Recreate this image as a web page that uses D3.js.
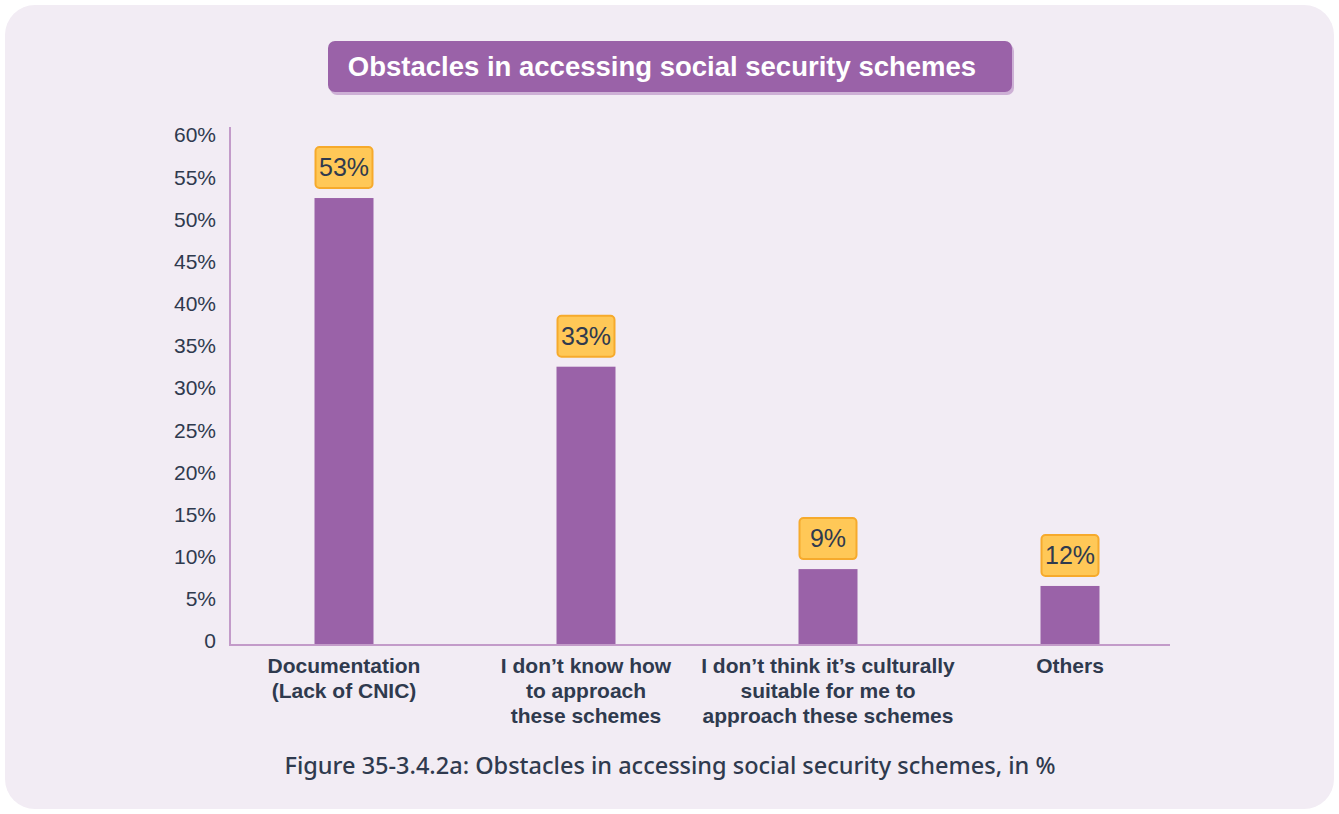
<!DOCTYPE html>
<style>
    body { margin: 0; background: #fff; }
</style>
<body>
<svg width="1339" height="814" viewBox="0 0 1339 814" id="chart"></svg>
<script src="https://cdn.jsdelivr.net/npm/d3@7"></script>
<script>

    // data
    var categories = [
        ["Documentation", "(Lack of CNIC)"],
        ["I don\u2019t know how", "to approach", "these schemes"],
        ["I don\u2019t think it\u2019s culturally", "suitable for me to", "approach these schemes"],
        ["Others"]
    ];
    var values = [53, 33, 9, 7];                 // bar heights as drawn
    var valueLabels = ["53%", "33%", "9%", "12%"]; // labels as printed
    var yTicks = [0, 5, 10, 15, 20, 25, 30, 35, 40, 45, 50, 55, 60];

    var svg = d3.select("svg"),
        margin = {top: 139, right: 169, bottom: 169, left: 230},
        width = +svg.attr("width") - margin.left - margin.right,
        height = +svg.attr("height") - margin.top - margin.bottom;

    // card
    svg.append("rect")
        .attr("x", 5).attr("y", 5)
        .attr("width", 1329).attr("height", 804)
        .attr("rx", 30)
        .attr("fill", "#f2ecf4");

    // title pill
    svg.append("rect")
        .attr("x", 330).attr("y", 44)
        .attr("width", 684).attr("height", 51)
        .attr("rx", 7)
        .attr("fill", "#cdb0d5");
    svg.append("rect")
        .attr("x", 328).attr("y", 41)
        .attr("width", 684).attr("height", 51)
        .attr("rx", 7)
        .attr("fill", "#9a62a8");
    svg.append("text")
        .attr("x", 662).attr("y", 76)
        .attr("text-anchor", "middle")
        .attr("font-family", "'Liberation Sans', Arial, sans-serif")
        .attr("font-weight", "bold")
        .attr("font-size", "27.5px")
        .attr("fill", "#fff")
        .text("Obstacles in accessing social security schemes");

    var g = svg.append("g").attr("transform", "translate(" + margin.left + "," + margin.top + ")");

    var idx = categories.map(function(d, i) { return i; });

    var x = d3.scalePoint()
        .domain(idx)
        .range([114, width - 100]);

    var y = d3.scaleLinear()
        .domain([0, 60])
        .range([height, 0]);

    var barW = 59;

    // bars
    g.selectAll(".bar")
        .data(values)
        .enter().append("rect")
        .attr("class", "bar")
        .attr("x", function(d, i) { return x(i) - barW / 2; })
        .attr("y", function(d) { return y(d); })
        .attr("width", barW)
        .attr("height", function(d) { return y(0) - y(d); })
        .attr("fill", "#9a62a8");

    // axes
    g.append("line")
        .attr("x1", 0).attr("x2", 0)
        .attr("y1", -12).attr("y2", y(0))
        .attr("stroke", "#c39bc9").attr("stroke-width", 2);
    g.append("line")
        .attr("x1", -1).attr("x2", width)
        .attr("y1", y(0)).attr("y2", y(0))
        .attr("stroke", "#c39bc9").attr("stroke-width", 2);

    g.append("g")
        .selectAll("text")
        .data(yTicks)
        .enter().append("text")
        .attr("x", -14)
        .attr("y", function(d) { return y(d) - 4; })
        .attr("dy", "0.35em")
        .attr("text-anchor", "end")
        .attr("font-family", "'Liberation Sans', Arial, sans-serif")
        .attr("font-size", "21px")
        .attr("fill", "#2f3a4e")
        .text(function(d) { return d === 0 ? "0" : d + "%"; });

    // value badges
    var badge = g.selectAll(".badge")
        .data(values)
        .enter().append("g")
        .attr("class", "badge")
        .attr("transform", function(d, i) { return "translate(" + x(i) + "," + (y(d) - 10) + ")"; });

    badge.append("rect")
        .attr("x", -28.5).attr("y", -41)
        .attr("width", 57).attr("height", 41)
        .attr("rx", 4)
        .attr("fill", "#ffc857")
        .attr("stroke", "#f6aa2c")
        .attr("stroke-width", 2);

    badge.append("text")
        .attr("y", -20.5)
        .attr("dy", "0.35em")
        .attr("text-anchor", "middle")
        .attr("font-family", "'Liberation Sans', Arial, sans-serif")
        .attr("font-size", "25px")
        .attr("fill", "#2f3a4e")
        .text(function(d, i) { return valueLabels[i]; });

    // category labels
    var cat = g.selectAll(".cat")
        .data(categories)
        .enter().append("text")
        .attr("class", "cat")
        .attr("text-anchor", "middle")
        .attr("font-family", "'Liberation Sans', Arial, sans-serif")
        .attr("font-weight", "bold")
        .attr("font-size", "21px")
        .attr("fill", "#2f3a4e");

    cat.selectAll("tspan")
        .data(function(d, i) { return d.map(function(t) { return {t: t, i: i}; }); })
        .enter().append("tspan")
        .attr("x", function(d) { return x(d.i); })
        .attr("y", function(d, j) { return y(0) + 28 + j * 25; })
        .text(function(d) { return d.t; });

    // caption
    svg.append("text")
        .attr("x", 670).attr("y", 774)
        .attr("text-anchor", "middle")
        .attr("font-family", "'Noto Sans', sans-serif")
        .attr("font-weight", 500)
        .attr("font-size", "23px")
        .attr("textLength", 771)
        .attr("lengthAdjust", "spacingAndGlyphs")
        .attr("fill", "#2f3a4e")
        .text("Figure 35-3.4.2a: Obstacles in accessing social security schemes, in %");

</script>
</body>
